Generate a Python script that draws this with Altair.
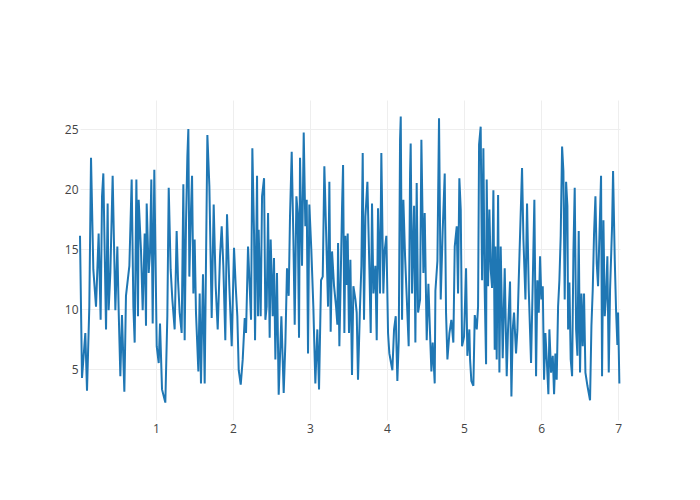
import altair as alt
import pandas as pd

x_values = [
    0.013, 0.039, 0.082, 0.104, 0.134, 0.156, 0.186, 0.221, 0.255, 0.281, 0.299, 0.316, 0.351, 0.372, 0.385,
    0.407, 0.437, 0.472, 0.498, 0.515, 0.537, 0.558, 0.589, 0.610, 0.654, 0.684, 0.706, 0.723, 0.745, 0.766,
    0.775, 0.805, 0.827, 0.853, 0.870, 0.879, 0.905, 0.922, 0.939, 0.957, 0.978, 1.009, 1.035, 1.052, 1.078,
    1.121,
    1.147, 1.165, 1.190, 1.212, 1.242, 1.268, 1.286, 1.307, 1.333, 1.355, 1.372, 1.390, 1.407, 1.420, 1.433,
    1.450, 1.468, 1.485, 1.502, 1.519, 1.550, 1.567, 1.584, 1.610, 1.632, 1.667, 1.693, 1.723, 1.749, 1.775,
    1.801, 1.831, 1.853, 1.874, 1.900, 1.922, 1.952, 1.983, 2.013, 2.035, 2.056, 2.074, 2.100, 2.126, 2.152,
    2.169, 2.195, 2.234, 2.251, 2.273, 2.286,
    2.312, 2.325, 2.333, 2.359, 2.377, 2.403, 2.420, 2.437, 2.455, 2.476, 2.489, 2.515, 2.532, 2.550, 2.571,
    2.593, 2.628, 2.658, 2.680, 2.701, 2.723, 2.740, 2.762, 2.784, 2.801, 2.823, 2.840, 2.857, 2.870, 2.896,
    2.918, 2.939, 2.957, 2.974, 2.991, 3.017, 3.043, 3.069, 3.095, 3.117, 3.143, 3.165, 3.186, 3.208, 3.234,
    3.251, 3.268, 3.286, 3.312, 3.338, 3.355, 3.364, 3.381, 3.398, 3.416, 3.429,
    3.446, 3.459, 3.476, 3.489, 3.506, 3.524, 3.545, 3.563, 3.589, 3.606, 3.623, 3.649, 3.667, 3.684, 3.701,
    3.719, 3.745, 3.771, 3.788, 3.805, 3.823, 3.848, 3.866, 3.883, 3.909, 3.926, 3.952, 3.970, 3.991, 4.013,
    4.030, 4.052, 4.069, 4.091, 4.113, 4.134, 4.152, 4.169, 4.178, 4.195, 4.212, 4.234, 4.255, 4.281, 4.299,
    4.307, 4.325, 4.351, 4.368, 4.385, 4.403, 4.429, 4.446, 4.472, 4.489, 4.515, 4.537, 4.558, 4.576,
    4.593, 4.619, 4.628, 4.654, 4.675, 4.697, 4.723, 4.749, 4.766, 4.784, 4.810, 4.835, 4.861, 4.879, 4.905,
    4.922, 4.939, 4.957, 4.974, 5.000, 5.026, 5.043, 5.069, 5.078, 5.095, 5.121, 5.139, 5.165, 5.182, 5.195,
    5.216, 5.234, 5.251, 5.268, 5.286, 5.294, 5.312, 5.329, 5.346, 5.364, 5.381, 5.398, 5.407, 5.424, 5.442,
    5.459, 5.476, 5.502, 5.528, 5.554, 5.571, 5.597, 5.615, 5.632, 5.649, 5.675, 5.693, 5.710,
    5.753, 5.771, 5.797, 5.818, 5.840, 5.870, 5.892, 5.913, 5.935, 5.952, 5.970, 5.987, 6.004, 6.022, 6.039,
    6.056, 6.074, 6.095, 6.108, 6.130, 6.152, 6.169, 6.186, 6.203, 6.221, 6.238, 6.255, 6.273, 6.290, 6.307,
    6.325, 6.342, 6.351, 6.368, 6.385, 6.403, 6.420, 6.437, 6.455, 6.472, 6.489, 6.506, 6.524, 6.541, 6.558,
    6.576, 6.602, 6.619, 6.636, 6.654, 6.671, 6.688, 6.706, 6.723, 6.740, 6.779, 6.792, 6.810, 6.827, 6.844,
    6.861, 6.879, 6.896, 6.922, 6.935, 6.957, 6.974, 6.991, 7.000, 7.017,
]

y_values = [
    16.1, 4.25, 8.0, 3.2, 10.2, 22.6, 13.3, 10.2, 16.3, 9.1, 19.4, 21.3, 8.3, 18.8, 9.9,
    13.0, 21.1, 9.9, 15.2, 9.9, 4.4, 9.5, 3.1, 11.1, 13.6, 20.8, 10.2, 7.2, 20.8, 9.4,
    19.1, 14.9, 9.9, 16.3, 8.6, 18.8, 13.0, 14.7, 20.8, 8.8, 21.6, 6.9, 5.5, 8.8, 3.3,
    2.2,
    9.4, 20.1, 13.3, 10.8, 8.3, 16.5, 12.4, 9.7, 8.0, 20.4, 7.4, 17.4, 22.7, 25.0, 12.7,
    17.4, 21.1, 11.3, 15.8, 9.7, 4.8, 11.3, 3.8, 12.9, 3.8, 24.5, 20.2, 9.25, 18.7, 11.9,
    8.3, 14.4, 16.9, 13.6, 7.4, 17.9, 11.9, 6.9, 15.1, 11.9, 9.4, 4.9, 3.7, 5.8, 9.25,
    8.0, 15.2, 9.1, 23.4, 16.3, 7.4,
    21.1, 9.4, 16.6, 9.4, 19.4, 20.9, 9.1, 10.2, 18.0, 7.6, 15.8, 9.4, 14.25, 5.8, 13.0,
    2.86, 9.4, 3.0, 7.2, 13.4, 11.1, 17.7, 23.1, 15.8, 8.7, 19.4, 18.0, 7.6, 22.6, 13.6,
    24.7, 16.9, 19.1, 6.3, 18.7, 14.9, 10.2, 3.8, 8.3, 3.3, 12.4, 12.7, 21.9, 16.6, 10.2,
    20.6, 8.1, 14.8, 11.9, 10.2, 8.7, 15.5, 6.9, 12.4, 18.6, 22.0,
    8.0, 16.1, 12.0, 16.3, 8.0, 14.1, 4.5, 11.9, 10.8, 9.7, 4.1, 10.2, 13.6, 23.0, 9.1,
    17.7, 20.6, 13.3, 8.0, 18.8, 11.3, 13.6, 7.4, 18.4, 11.3, 23.0, 11.3, 14.9, 16.1, 8.0,
    6.3, 5.5, 4.9, 8.3, 9.4, 4.0, 7.4, 24.1, 26.05, 9.1, 19.1, 14.4, 11.1, 6.9, 21.3,
    23.8, 11.3, 18.6, 7.2, 20.5, 9.7, 10.8, 24.1, 13.0, 18.0, 7.4, 12.1, 8.0, 4.8,
    7.2, 3.8, 11.5, 14.0, 25.9, 10.8, 16.6, 21.3, 9.7, 5.8, 8.0, 9.1, 7.2, 15.2, 16.9,
    11.3, 20.9, 18.3, 6.9, 7.7, 13.4, 6.1, 8.3, 5.8, 4.0, 3.6, 9.5, 8.3, 10.2, 23.7,
    25.2, 12.4, 23.4, 11.6, 5.4, 20.8, 11.9, 18.3, 13.3, 11.75, 19.9, 6.6, 15.2, 5.8, 19.5,
    4.7, 15.2, 5.9, 13.4, 4.4, 8.3, 12.3, 2.7, 8.3, 9.7, 6.3, 8.3, 12.4,
    21.75, 15.8, 10.8, 18.8, 11.6, 5.5, 12.2, 19.1, 4.4, 12.4, 9.7, 14.4, 10.8, 11.9, 4.1,
    8.0, 5.8, 2.9, 8.3, 4.7, 6.1, 2.9, 6.3, 4.1, 10.2, 12.4, 16.1, 23.55, 21.5, 10.8,
    20.6, 18.6, 8.3, 12.2, 5.8, 4.4, 14.7, 20.1, 8.3, 6.1, 16.5, 4.7, 11.3, 6.9, 11.3,
    4.7, 3.6, 3.0, 2.4, 8.6, 11.6, 16.3, 19.4, 13.8, 11.9, 21.1, 4.4, 17.4, 9.4, 11.1,
    14.4, 4.7, 11.6, 16.9, 21.5, 14.1, 9.9, 7.0, 9.7, 3.8,
]

x_ticks = [1, 2, 3, 4, 5, 6, 7]
y_ticks = [5, 10, 15, 20, 25]

df = pd.DataFrame({"x": x_values, "y": y_values})

axis_common = dict(
    title=None,
    grid=True,
    gridColor="#eeeeee",
    gridWidth=1,
    domain=False,
    ticks=False,
    labelColor="#444444",
    labelFont="Open Sans",
    labelFontSize=12,
)

chart = (
    alt.Chart(df)
    .mark_line(color="#1f77b4", strokeWidth=2)
    .encode(
        x=alt.X(
            "x:Q",
            scale=alt.Scale(domain=[0.013, 7.025], nice=False, zero=False),
            axis=alt.Axis(values=x_ticks, labelPadding=3, **axis_common),
        ),
        y=alt.Y(
            "y:Q",
            scale=alt.Scale(domain=[0.75, 27.42], nice=False, zero=False),
            axis=alt.Axis(values=y_ticks, labelPadding=2, **axis_common),
        ),
        order="x:Q",
    )
    .properties(
        width=540,
        height=320,
        autosize=alt.AutoSizeParams(type="none"),
        padding={"left": 72, "top": 92, "right": 72, "bottom": 72},
        background="white",
    )
    .configure_view(stroke=None)
)

chart.save("out.html", embed_options={"renderer": "svg", "actions": False})
